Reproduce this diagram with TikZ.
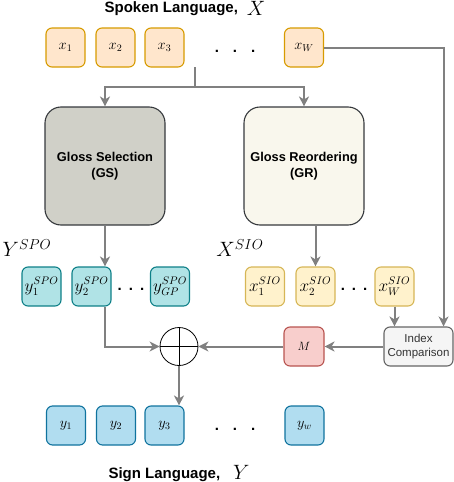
\documentclass[tikz,border=0pt]{standalone}
\usepackage{amsmath}
\usepackage[no-math]{fontspec}
\setmainfont{Liberation Sans}
\usetikzlibrary{arrows.meta}

\definecolor{xfill}{HTML}{FFE6CC}
\definecolor{xline}{HTML}{D79B00}
\definecolor{gsfill}{HTML}{D0D0C8}
\definecolor{grfill}{HTML}{F9F7ED}
\definecolor{glossline}{HTML}{36393D}
\definecolor{spofill}{HTML}{B0E3E6}
\definecolor{spoline}{HTML}{0E8088}
\definecolor{siofill}{HTML}{FFF2CC}
\definecolor{sioline}{HTML}{D6B656}
\definecolor{mfill}{HTML}{F8CECC}
\definecolor{mline}{HTML}{B85450}
\definecolor{icfill}{HTML}{F5F5F5}
\definecolor{icline}{HTML}{666666}
\definecolor{ictext}{HTML}{333333}
\definecolor{yfill}{HTML}{B1DDF0}
\definecolor{yline}{HTML}{10739E}
\definecolor{arrowgray}{HTML}{808080}

\begin{document}
\begin{tikzpicture}[
        x=1pt, y=-1pt,
        token/.style={
            rectangle,
            draw,
            line width=1.1pt,
            rounded corners=6pt,
            align=center,
            minimum width=39pt,
            minimum height=39pt,
            inner sep=0pt,
            font=\fontsize{14}{14}\selectfont
        },
        xtok/.style={token, fill=xfill, draw=xline},
        spotok/.style={token, fill=spofill, draw=spoline, font=\fontsize{16}{16}\selectfont},
        siotok/.style={token, fill=siofill, draw=sioline, font=\fontsize{16}{16}\selectfont},
        ytok/.style={token, fill=yfill, draw=yline},
        gloss/.style={
            rectangle,
            draw=glossline,
            line width=1.1pt,
            rounded corners=16pt,
            align=center,
            minimum width=120pt,
            minimum height=118pt,
            font=\bfseries\fontsize{12.8}{16}\selectfont
        },
        dotrow/.style={inner sep=0pt, font=\bfseries\fontsize{15}{15}\selectfont},
        title/.style={inner sep=0pt, font=\bfseries\fontsize{15}{18}\selectfont},
        setlabel/.style={inner sep=0pt, font=\fontsize{22}{22}\selectfont},
        arrow/.style={-{Stealth[length=10pt,width=10pt,inset=3pt]}, draw=arrowgray, line width=2pt}
    ]
        \useasboundingbox (0,0) rectangle (454,482);

        % Spoken language input
        \node[title] (spoken) at (185,9) {Spoken Language,\hspace{9pt}\raisebox{-3pt}{\fontsize{20}{20}\selectfont$X$}};
        \node[xtok] (x1) at (65.5,47.5) {$x_1$};
        \node[xtok] (x2) at (115.5,47.5) {$x_2$};
        \node[xtok] (x3) at (164.5,47.5) {$x_3$};
        \node[dotrow] (xdots) at (235,51) {.\hspace{14pt}.\hspace{14pt}.};
        \node[xtok] (xw) at (304,47.5) {$x_W$};

        % Gloss modules
        \node[gloss, fill=gsfill] (gs) at (105,166) {Gloss Selection\\(GS)};
        \node[gloss, fill=grfill] (gr) at (304,166) {Gloss Reordering\\(GR)};

        % Selected glosses
        \node[setlabel] (spolabel) at (27,248) {$Y^{SPO}$};
        \node[spotok] (y1spo) at (41.5,286.5) {$y_1^{SPO}$};
        \node[spotok] (y2spo) at (91.5,286.5) {$y_2^{SPO}$};
        \node[dotrow] (spodots) at (131,289) {.\hspace{7pt}.\hspace{7pt}.};
        \node[spotok] (ygpspo) at (170,286.5) {$y_{GP}^{SPO}$};

        % Reordered glosses
        \node[setlabel] (siolabel) at (240,248) {$X^{SIO}$};
        \node[siotok] (x1sio) at (265,286.5) {$x_1^{SIO}$};
        \node[siotok] (x2sio) at (315.5,286.5) {$x_2^{SIO}$};
        \node[dotrow] (siodots) at (354,289) {.\hspace{7pt}.\hspace{7pt}.};
        \node[siotok] (xwsio) at (394.5,286.5) {$x_W^{SIO}$};

        % Combination stage
        \node[rectangle, draw=icline, fill=icfill, line width=1.1pt, rounded corners=6pt, minimum width=69pt, minimum height=39pt,
              inner sep=0pt, align=center, text=ictext, font=\fontsize{11.5}{13.5}\selectfont] (ic) at (418.5,346.5) {Index\\Comparison};
        \node[rectangle, draw=mline, fill=mfill, line width=1.1pt, rounded corners=6pt, minimum width=40pt, minimum height=39pt,
              font=\fontsize{12}{12}\selectfont] (mask) at (304,346.5) {$M$};
        \node[circle, draw, thick, minimum size=38pt, inner sep=0pt] (oplus) at (179,346.5) {};
        \draw[thick] (oplus.north) -- (oplus.south);
        \draw[thick] (oplus.west) -- (oplus.east);

        % Sign language output
        \node[ytok] (y1) at (66,425.5) {$y_1$};
        \node[ytok] (y2) at (116,425.5) {$y_2$};
        \node[ytok] (y3) at (164.5,425.5) {$y_3$};
        \node[dotrow] (ydots) at (235,429) {.\hspace{14pt}.\hspace{14pt}.};
        \node[ytok] (yw) at (304.5,425.5) {$y_w$};
        \node[title] (sign) at (179,473) {Sign Language,\hspace{13pt}\raisebox{-1pt}{\fontsize{22}{22}\selectfont$Y$}};

        % Arrows
        \coordinate (xrow) at (195,67);
        \coordinate (branch) at (195,87);
        \draw[arrow] (xrow) -- (branch) -| (gs.north);
        \draw[arrow] (branch) -| (gr.north);
        \draw[arrow] (xw.east) -| ([xshift=-10pt]ic.north east);
        \draw[arrow] (gs.south) -- (gs.south |- y2spo.north);
        \draw[arrow] (gr.south -| x2sio.north) -- (x2sio.north);
        \draw[arrow] (xwsio.south) -- (xwsio.south |- ic.north);
        \draw[arrow] (ic.west) -- (mask.east);
        \draw[arrow] (mask.west) -- (oplus.east);
        \draw[arrow] (gs.south |- y2spo.south) |- (oplus.west);
        \draw[arrow] (oplus.south) -- (oplus.south |- y3.north);

    \end{tikzpicture}
\end{document}
